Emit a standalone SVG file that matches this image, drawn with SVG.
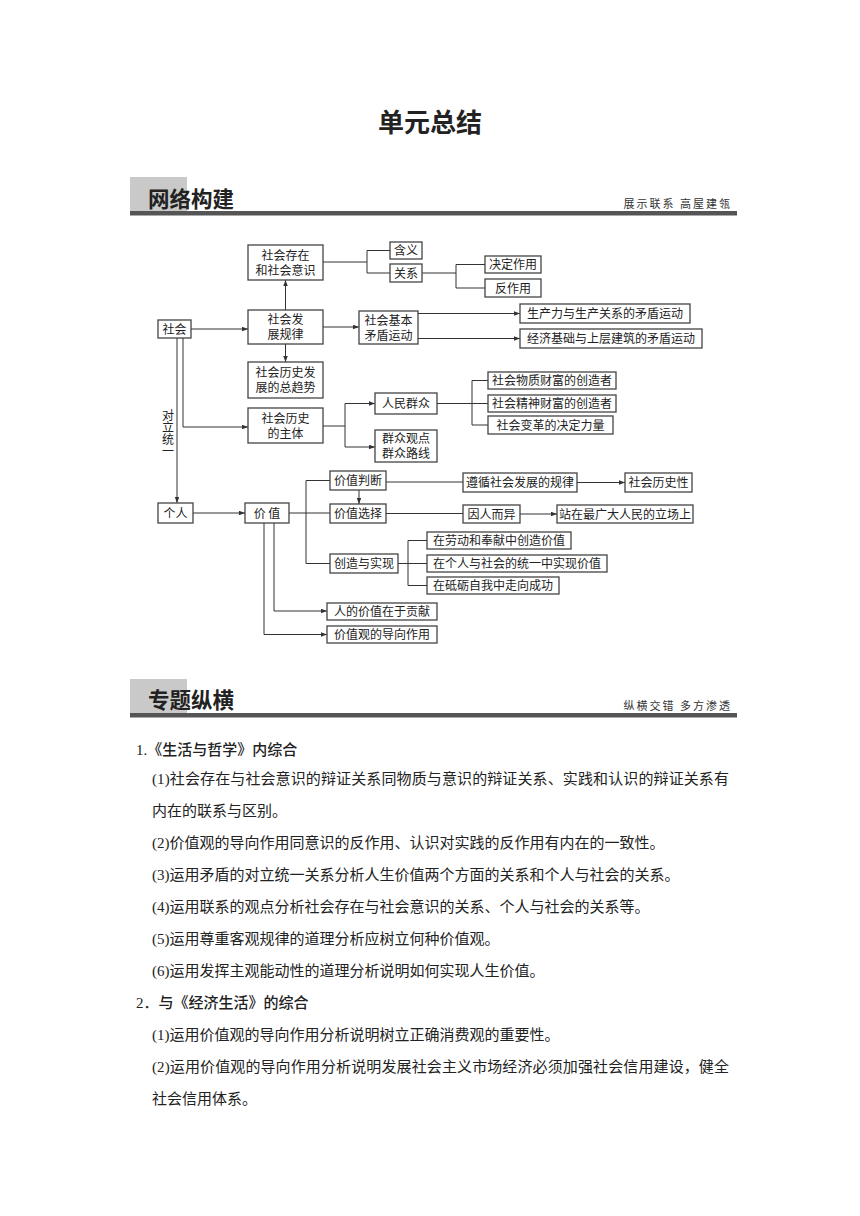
<svg xmlns="http://www.w3.org/2000/svg" width="860" height="1216" viewBox="0 0 860 1216">
<defs>
<marker id="ah" viewBox="0 0 8 6" refX="8" refY="3" markerWidth="6" markerHeight="4.5" orient="auto" markerUnits="userSpaceOnUse">
<path d="M0,0 L8,3 L0,6 Z" fill="#333"/>
</marker>
<style>
.b{fill:#fff;stroke:#444;stroke-width:1.3}
.t{font-family:"Noto Sans CJK SC",sans-serif;font-size:12px;fill:#222;text-anchor:middle}
.c{fill:none;stroke:#333;stroke-width:1}
.a{fill:none;stroke:#333;stroke-width:1;marker-end:url(#ah)}
.body{font-family:"Liberation Serif","Noto Sans CJK SC",serif;font-size:15px;fill:#222}
.h{font-family:"Noto Sans CJK SC",sans-serif;font-weight:bold;fill:#222}
.sub{font-family:"Noto Sans CJK SC",sans-serif;font-size:11px;letter-spacing:2px;fill:#333;text-anchor:end}
</style>
</defs>
<rect width="860" height="1216" fill="#fff"/>

<text class="h" x="430" y="132" font-size="26" text-anchor="middle">单元总结</text>

<g id="header1">
<rect x="130" y="177" width="57" height="35" fill="#c9c9c9"/>
<rect x="130" y="211" width="607" height="4" fill="#555"/>
<rect x="130" y="215" width="607" height="1" fill="#aaa"/>
<text class="h" x="148" y="207" font-size="21.5">网络构建</text>
<text class="sub" x="732" y="208">展示联系  高屋建瓴</text>
</g>

<g id="connectors">
<path class="c" d="M323,262 H367 M367,250.5 V273 M367,250.5 H390 M367,273 H390"/>
<path class="c" d="M422,273 H456 M456,264.5 V288 M456,264.5 H485 M456,288 H485"/>
<path class="a" d="M191,329 H248"/>
<path class="a" d="M285.5,310 V280"/>
<path class="a" d="M285.5,344 V362"/>
<path class="a" d="M323,327 H359"/>
<path class="a" d="M418,313.5 H520"/>
<path class="a" d="M418,338.5 H520"/>
<path class="a" d="M177,338 V503"/>
<path class="a" d="M183,338 V427 H248"/>
<path class="c" d="M323,426 H345 M345,403.5 V447"/>
<path class="a" d="M345,403.5 H375"/>
<path class="a" d="M345,447 H375"/>
<path class="c" d="M437,403.5 H472 M472,380.5 V425 M472,380.5 H488 M472,403.5 H488 M472,425 H488"/>
<path class="a" d="M193,513 H245"/>
<path class="c" d="M289,513 H306 M306,480.5 V563.5 M306,480.5 H330 M306,513 H330 M306,563.5 H330"/>
<path class="a" d="M359,490 V504"/>
<path class="c" d="M386,482 H463"/>
<path class="a" d="M577,482.5 H625"/>
<path class="c" d="M386,513.5 H463"/>
<path class="a" d="M520,514 H557"/>
<path class="c" d="M398,563.5 H408 M408,540.5 V585.5 M408,540.5 H427 M408,563.5 H427 M408,585.5 H427"/>
<path class="a" d="M274,523 V611 H327"/>
<path class="a" d="M264,523 V634.5 H327"/>
</g>

<g id="label-duili">
<text x="168" y="409" style="writing-mode:vertical-rl;font-family:'Noto Sans CJK SC',sans-serif;font-size:12px;fill:#222">对立统一</text>
</g>

<g id="n-cunzai"><rect class="b" x="248" y="245" width="75" height="35"/><text class="t" x="285.5" y="260">社会存在</text><text class="t" x="285.5" y="275">和社会意识</text></g>
<g id="n-hanyi"><rect class="b" x="390" y="242" width="32" height="17"/><text class="t" x="406" y="255">含义</text></g>
<g id="n-guanxi"><rect class="b" x="390" y="264" width="32" height="18"/><text class="t" x="406" y="277.5">关系</text></g>
<g id="n-jueding"><rect class="b" x="485" y="256" width="56" height="17"/><text class="t" x="513" y="269">决定作用</text></g>
<g id="n-fan"><rect class="b" x="485" y="279" width="56" height="18"/><text class="t" x="513" y="292.5">反作用</text></g>
<g id="n-shehui"><rect class="b" x="158" y="320" width="33" height="18"/><text class="t" x="174.5" y="333.5">社会</text></g>
<g id="n-guilv"><rect class="b" x="248" y="310" width="75" height="34"/><text class="t" x="285.5" y="324">社会发</text><text class="t" x="285.5" y="339">展规律</text></g>
<g id="n-jiben"><rect class="b" x="359" y="311" width="59" height="33"/><text class="t" x="388.5" y="324.5">社会基本</text><text class="t" x="388.5" y="339.5">矛盾运动</text></g>
<g id="n-shengchan"><rect class="b" x="520" y="304" width="170" height="19"/><text class="t" x="605" y="318">生产力与生产关系的矛盾运动</text></g>
<g id="n-jingji"><rect class="b" x="520" y="329" width="182" height="19"/><text class="t" x="611" y="343">经济基础与上层建筑的矛盾运动</text></g>
<g id="n-qushi"><rect class="b" x="248" y="362" width="75" height="36"/><text class="t" x="285.5" y="377">社会历史发</text><text class="t" x="285.5" y="392">展的总趋势</text></g>
<g id="n-zhuti"><rect class="b" x="248" y="408" width="75" height="35"/><text class="t" x="285.5" y="423">社会历史</text><text class="t" x="285.5" y="438">的主体</text></g>
<g id="n-renmin"><rect class="b" x="375" y="393" width="62" height="21"/><text class="t" x="406" y="408">人民群众</text></g>
<g id="n-qunzhong"><rect class="b" x="375" y="430" width="62" height="32"/><text class="t" x="406" y="443">群众观点</text><text class="t" x="406" y="458">群众路线</text></g>
<g id="n-wuzhi"><rect class="b" x="488" y="372" width="128" height="17"/><text class="t" x="552" y="385">社会物质财富的创造者</text></g>
<g id="n-jingshen"><rect class="b" x="488" y="395" width="128" height="17"/><text class="t" x="552" y="408">社会精神财富的创造者</text></g>
<g id="n-biange"><rect class="b" x="488" y="416" width="125" height="18"/><text class="t" x="550.5" y="429.5">社会变革的决定力量</text></g>
<g id="n-geren"><rect class="b" x="158" y="503" width="35" height="20"/><text class="t" x="175.5" y="517.5">个人</text></g>
<g id="n-jiazhi"><rect class="b" x="245" y="503" width="44" height="20"/><text class="t" x="267" y="517.5">价 值</text></g>
<g id="n-panduan"><rect class="b" x="330" y="471" width="56" height="19"/><text class="t" x="358" y="485">价值判断</text></g>
<g id="n-xuanze"><rect class="b" x="330" y="504" width="56" height="19"/><text class="t" x="358" y="518">价值选择</text></g>
<g id="n-chuangzao"><rect class="b" x="330" y="554" width="68" height="19"/><text class="t" x="364" y="568">创造与实现</text></g>
<g id="n-zunxun"><rect class="b" x="463" y="473" width="114" height="19"/><text class="t" x="520" y="487">遵循社会发展的规律</text></g>
<g id="n-lishixing"><rect class="b" x="625" y="473" width="67" height="19"/><text class="t" x="658.5" y="487">社会历史性</text></g>
<g id="n-yinren"><rect class="b" x="463" y="505" width="57" height="18"/><text class="t" x="491.5" y="518.5">因人而异</text></g>
<g id="n-zhanzai"><rect class="b" x="557" y="505" width="136" height="18"/><text class="t" x="625" y="518.5">站在最广大人民的立场上</text></g>
<g id="n-laodong"><rect class="b" x="427" y="532" width="144" height="17"/><text class="t" x="499" y="545">在劳动和奉献中创造价值</text></g>
<g id="n-tongyi"><rect class="b" x="427" y="555" width="180" height="17"/><text class="t" x="517" y="568">在个人与社会的统一中实现价值</text></g>
<g id="n-dili"><rect class="b" x="427" y="577" width="132" height="17"/><text class="t" x="493" y="590">在砥砺自我中走向成功</text></g>
<g id="n-gongxian"><rect class="b" x="327" y="603" width="110" height="17"/><text class="t" x="382" y="616">人的价值在于贡献</text></g>
<g id="n-daoxiang"><rect class="b" x="327" y="626" width="110" height="17"/><text class="t" x="382" y="639">价值观的导向作用</text></g>

<g id="header2">
<rect x="130" y="679" width="57" height="35" fill="#c9c9c9"/>
<rect x="130" y="713" width="607" height="4" fill="#555"/>
<rect x="130" y="717" width="607" height="1" fill="#aaa"/>
<text class="h" x="148" y="708" font-size="21.5">专题纵横</text>
<text class="sub" x="732" y="710">纵横交错  多方渗透</text>
</g>

<g id="body">
<text class="body" x="136" y="755"><tspan>1.</tspan><tspan font-family="'Noto Sans CJK SC',sans-serif" font-weight="500">《生活与哲学》内综合</tspan></text>
<text class="body" x="152" y="784" textLength="577" lengthAdjust="spacing">(1)社会存在与社会意识的辩证关系同物质与意识的辩证关系、实践和认识的辩证关系有</text>
<text class="body" x="152" y="816">内在的联系与区别。</text>
<text class="body" x="152" y="848">(2)价值观的导向作用同意识的反作用、认识对实践的反作用有内在的一致性。</text>
<text class="body" x="152" y="880">(3)运用矛盾的对立统一关系分析人生价值两个方面的关系和个人与社会的关系。</text>
<text class="body" x="152" y="912">(4)运用联系的观点分析社会存在与社会意识的关系、个人与社会的关系等。</text>
<text class="body" x="152" y="944">(5)运用尊重客观规律的道理分析应树立何种价值观。</text>
<text class="body" x="152" y="976">(6)运用发挥主观能动性的道理分析说明如何实现人生价值。</text>
<text class="body" x="136" y="1008"><tspan>2．</tspan><tspan font-family="'Noto Sans CJK SC',sans-serif" font-weight="500">与《经济生活》的综合</tspan></text>
<text class="body" x="152" y="1040">(1)运用价值观的导向作用分析说明树立正确消费观的重要性。</text>
<text class="body" x="152" y="1072" textLength="577" lengthAdjust="spacing">(2)运用价值观的导向作用分析说明发展社会主义市场经济必须加强社会信用建设，健全</text>
<text class="body" x="152" y="1104">社会信用体系。</text>
</g>
</svg>
